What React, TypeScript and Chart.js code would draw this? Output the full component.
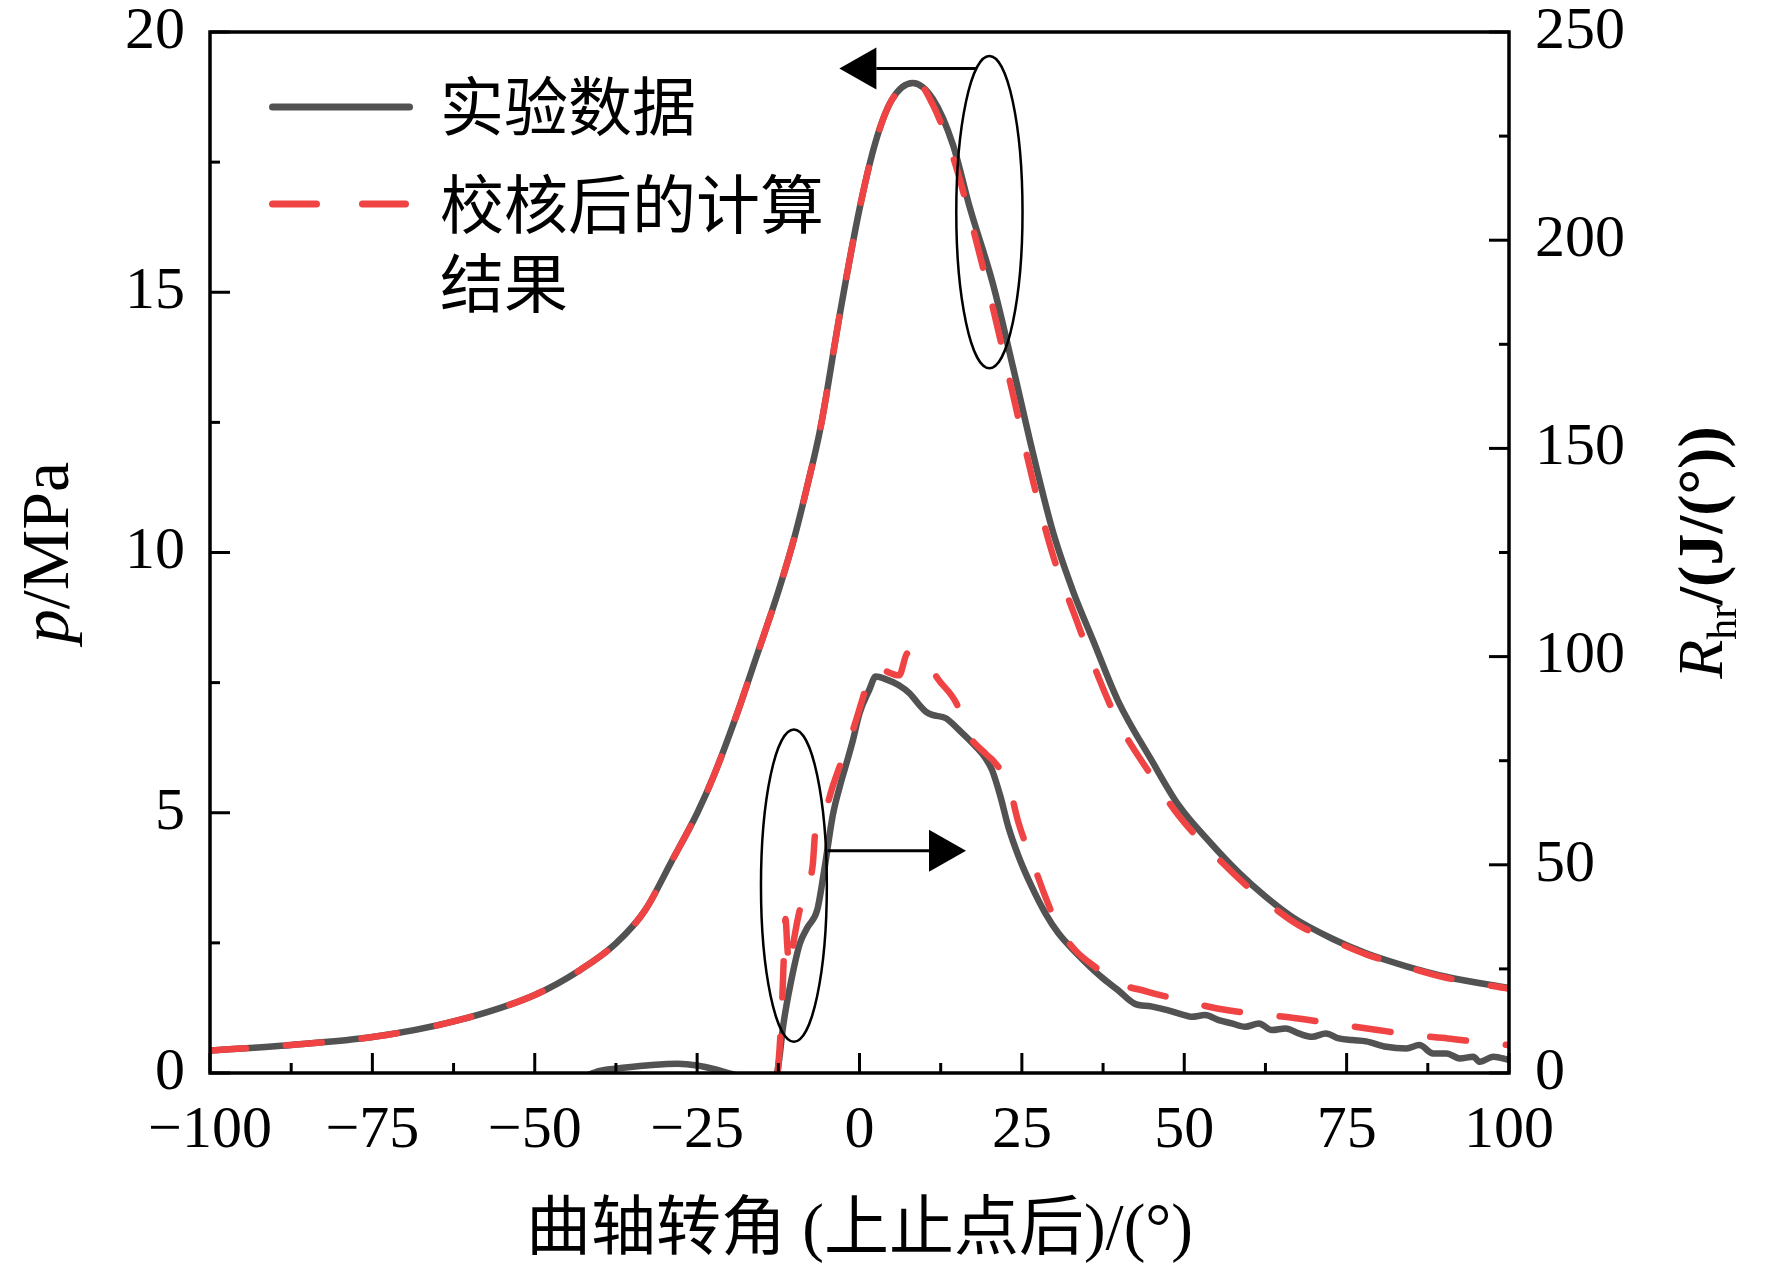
import { useEffect, useRef } from "react"
import { Chart, registerables } from "chart.js"

Chart.register(...registerables)

// 缸内压力 p (MPa) — 实验数据
const pExpAngle = [
  -100, -87.5, -75, -62.5, -50, -43, -37.5, -33, -29, -25,
  -22.5, -19, -16, -12.5, -10, -8, -6, -3, 0, 2.5,
  5, 8.2, 11.3, 14.4, 17, 20.5, 23.6, 26.7, 29.8, 32.9,
  36, 39.8, 45, 49.1, 54.2, 58.4, 62.5, 66.6, 72.8, 78,
  84.2, 90.3, 100,
]
const pExpValue = [
  0.43, 0.54, 0.69, 0.99, 1.5, 1.98, 2.49, 3.13, 4.05, 4.99,
  5.69, 6.85, 7.95, 9.25, 10.3, 11.3, 12.4, 14.6, 16.6, 17.9,
  18.7, 19.02, 18.71, 17.83, 16.62, 15.18, 13.58, 11.91, 10.39, 9.25,
  8.3, 7.15, 6.0, 5.15, 4.4, 3.85, 3.39, 3.0, 2.58, 2.3,
  2.05, 1.85, 1.63,
]

// 缸内压力 p (MPa) — 校核后的计算结果
const pCalcAngle = [
  -100, -87.5, -75, -62.5, -50, -43, -37.5, -33, -29, -25,
  -22.5, -19, -16, -12.5, -10, -8, -6, -3, 0, 2.5,
  5, 8.7, 11.3, 14.4, 17, 20.5, 23.6, 26.7, 29.8, 32.9,
  36, 39.8, 45, 49.1, 54.2, 59.4, 62.5, 67.6, 72.8, 78,
  84.2, 90.3, 100,
]
const pCalcValue = [
  0.43, 0.54, 0.69, 0.99, 1.5, 1.98, 2.49, 3.13, 4.05, 4.99,
  5.69, 6.85, 7.95, 9.25, 10.3, 11.3, 12.4, 14.6, 16.6, 17.9,
  18.7, 19.05, 18.6, 17.6, 16.45, 14.72, 13.05, 11.38, 9.94, 8.87,
  7.85, 6.75, 5.7, 4.95, 4.25, 3.62, 3.3, 2.84, 2.55, 2.28,
  2.04, 1.83, 1.62,
]

// 放热率 Rhr (J/(°)) — 实验数据
const hrExpAngle = [
  -100, -44, -40, -36, -32, -28, -25, -22, -19, -13.5,
  -12.7, -11.7, -10.6, -9.2, -8, -6.5, -5.5, -4.1, -3, -2,
  -1, 0, 1.5, 2.5, 4, 6, 7.7, 9.2, 10.2, 11.2,
  13.3, 15.3, 17.9, 19.4, 20.4, 21.7, 22.9, 24.5, 26.5, 28.6,
  30.6, 33.7, 37.2, 39.8, 42.3, 44.9, 47.4, 50, 51.1, 53.2,
  55.3, 57.3, 59.4, 61.5, 63.5, 65.6, 67.6, 69.7, 71.8, 73.8,
  75.9, 78, 81.1, 84.2, 86.2, 88.3, 90.4, 92.4, 94.5, 95.5,
  97.6, 100,
]
const hrExpValue = [
  -1.5, -1.5, 0.5, 1.3, 1.9, 2.2, 1.8, 0.8, -0.5, -1.5,
  0, 11.9, 21.5, 31, 35, 39.2, 48, 62, 69, 74.4,
  80, 86.4, 92, 95.2, 94.6, 93.2, 91.2, 88.4, 86.8, 86,
  85.2, 82.4, 78.4, 75.6, 72.8, 66.4, 59.2, 52, 44.8, 38.4,
  33.6, 28.3, 23.1, 19.9, 16.7, 16, 15.1, 13.9, 13.5, 13.9,
  12.7, 11.9, 11.1, 11.9, 10.3, 10.7, 9.5, 8.7, 9.5, 8.3,
  7.9, 7.6, 6.3, 5.9, 6.7, 4.7, 4.7, 3.5, 3.9, 2.7,
  3.9, 3.1,
]

// 放热率 Rhr (J/(°)) — 校核后的计算结果
const hrCalcAngle = [
  -12.6, -12.3, -11.9, -11.6, -11.4, -11.1, -10.8, -10.2, -9.5, -8.9,
  -7.2, -6.8, -5.5, -4.1, -2.5, -1, 0.5, 1.8, 3.1, 6.1,
  7.4, 8.6, 10.5, 12, 15, 16.3, 19.6, 20.7, 23, 24.5,
  27, 28.6, 30.6, 33.2, 37.2, 38.3, 44.4, 49.5, 55.1, 60.4,
  66.1, 72.8, 79.5, 85.2, 90.6, 95, 100,
]
const hrCalcValue = [
  0, 6, 17.5, 30, 37, 30, 25, 31, 37, 41,
  50, 58, 62, 69, 76, 82.4, 90, 96.5, 96.8, 95.5,
  100.8, 100.5, 98.8, 94.8, 88.5, 82.5, 76.4, 74.8, 69, 60,
  49.2, 42.4, 35.1, 29.5, 24.3, 22.7, 19.5, 17.5, 15.5, 14.3,
  13.4, 11.9, 10.4, 9.1, 8.3, 7.5, 6.7,
]

const xTicks = [-100, -75, -50, -25, 0, 25, 50, 75, 100]
const pTicks = [0, 5, 10, 15, 20]
const hrTicks = [0, 50, 100, 150, 200, 250]

const legendLabels = [["实验数据"], ["校核后的计算", "结果"]]

// 椭圆标注与箭头（数据坐标）
const callouts = [
  { axis: "y", cx: 20, cy: 16.54, rx: 5.1, ry: 3.0, arrowY: 19.3, from: 18, to: -3.1 },
  { axis: "y2", cx: -10.1, cy: 45, rx: 5.07, ry: 37.5, arrowY: 53.4, from: -4.9, to: 16.4 },
]

const GRAY = "#525252"
const RED = "#f04444"
const SERIF = "'Liberation Serif', 'Times New Roman', serif"
const CJK = "'Noto Sans CJK SC', sans-serif"

function toPoints(xs: number[], ys: number[]) {
  return xs.map((x, i) => ({ x, y: ys[i] }))
}

function fmtTick(v: number) {
  return v < 0 ? "\u2212" + Math.abs(v) : String(v)
}

const decorPlugin = {
  id: "decor",
  afterDatasetsDraw(chart: any) {
    const { ctx, scales } = chart
    const sx = scales.x
    ctx.save()
    ctx.strokeStyle = "#000"
    ctx.fillStyle = "#000"
    for (const c of callouts) {
      const sy = scales[c.axis]
      const cx = sx.getPixelForValue(c.cx)
      const cy = sy.getPixelForValue(c.cy)
      const rx = Math.abs(sx.getPixelForValue(c.cx + c.rx) - cx)
      const ry = Math.abs(sy.getPixelForValue(c.cy + c.ry) - cy)
      ctx.lineWidth = 2.5
      ctx.beginPath()
      ctx.ellipse(cx, cy, rx, ry, 0, 0, Math.PI * 2)
      ctx.stroke()

      const ay = sy.getPixelForValue(c.arrowY)
      const x0 = sx.getPixelForValue(c.from)
      const x1 = sx.getPixelForValue(c.to)
      const dir = Math.sign(x1 - x0)
      const head = 37
      ctx.lineWidth = 3
      ctx.beginPath()
      ctx.moveTo(x0, ay)
      ctx.lineTo(x1 - dir * head, ay)
      ctx.stroke()
      ctx.beginPath()
      ctx.moveTo(x1, ay)
      ctx.lineTo(x1 - dir * head, ay - 21)
      ctx.lineTo(x1 - dir * head, ay + 21)
      ctx.closePath()
      ctx.fill()
    }
    ctx.restore()
  },
  afterDraw(chart: any) {
    const { ctx, chartArea: a, scales } = chart
    const sx = scales.x
    const yl = scales.y
    const yr = scales.y2
    ctx.save()
    ctx.strokeStyle = "#000"
    ctx.fillStyle = "#000"

    // 刻度线（朝内）
    const line = (x0: number, y0: number, x1: number, y1: number) => {
      ctx.beginPath()
      ctx.moveTo(x0, y0)
      ctx.lineTo(x1, y1)
      ctx.stroke()
    }
    ctx.lineWidth = 3
    xTicks.forEach((v, i) => {
      const px = sx.getPixelForValue(v)
      line(px, a.bottom, px, a.bottom - 20)
      if (i < xTicks.length - 1) {
        const m = sx.getPixelForValue((v + xTicks[i + 1]) / 2)
        line(m, a.bottom, m, a.bottom - 10)
      }
    })
    pTicks.forEach((v, i) => {
      const py = yl.getPixelForValue(v)
      line(a.left, py, a.left + 20, py)
      if (i < pTicks.length - 1) {
        const m = yl.getPixelForValue((v + pTicks[i + 1]) / 2)
        line(a.left, m, a.left + 10, m)
      }
    })
    hrTicks.forEach((v, i) => {
      const py = yr.getPixelForValue(v)
      line(a.right, py, a.right - 20, py)
      if (i < hrTicks.length - 1) {
        const m = yr.getPixelForValue((v + hrTicks[i + 1]) / 2)
        line(a.right, m, a.right - 10, m)
      }
    })

    // 边框
    ctx.lineWidth = 3.5
    ctx.strokeRect(a.left, a.top, a.right - a.left, a.bottom - a.top)

    const midY = (a.top + a.bottom) / 2

    // 左轴标题 p/MPa
    ctx.save()
    ctx.translate(68, midY)
    ctx.rotate(-Math.PI / 2)
    ctx.textBaseline = "alphabetic"
    ctx.textAlign = "left"
    const fIt = `italic 68px ${SERIF}`
    const fRg = `68px ${SERIF}`
    ctx.font = fIt
    const wp = ctx.measureText("p").width
    ctx.font = fRg
    const wu = ctx.measureText("/MPa").width
    let sx0 = -(wp + wu) / 2
    ctx.font = fIt
    ctx.fillText("p", sx0, 0)
    ctx.font = fRg
    ctx.fillText("/MPa", sx0 + wp, 0)
    ctx.restore()

    // 右轴标题 Rhr/(J/(°))
    ctx.save()
    ctx.translate(1722, midY)
    ctx.rotate(-Math.PI / 2)
    ctx.textBaseline = "alphabetic"
    ctx.textAlign = "left"
    const fR = `italic 64px ${SERIF}`
    const fSub = `42px ${SERIF}`
    const fUnit = `bold 64px ${SERIF}`
    ctx.font = fR
    const wR = ctx.measureText("R").width
    ctx.font = fSub
    const wSub = ctx.measureText("hr").width
    ctx.font = fUnit
    const wUnit = ctx.measureText("/(J/(°))").width
    sx0 = -(wR + wSub + wUnit) / 2
    ctx.font = fR
    ctx.fillText("R", sx0, 0)
    ctx.font = fSub
    ctx.fillText("hr", sx0 + wR, 14)
    ctx.font = fUnit
    ctx.fillText("/(J/(°))", sx0 + wR + wSub, 0)
    ctx.restore()

    // 横轴标题
    ctx.font = `65px ${SERIF}, ${CJK}`
    ctx.textAlign = "center"
    ctx.textBaseline = "middle"
    ctx.fillText("曲轴转角 (上止点后)/(°)", (a.left + a.right) / 2, 1232)

    // 图例
    ctx.lineCap = "round"
    ctx.lineWidth = 7
    ctx.strokeStyle = GRAY
    line(272.5, 107, 409.5, 107)
    ctx.strokeStyle = RED
    ctx.setLineDash([44, 46])
    line(272.5, 204, 405.5, 204)
    ctx.setLineDash([])
    ctx.font = `64px ${CJK}`
    ctx.textAlign = "left"
    ctx.textBaseline = "middle"
    ctx.fillStyle = "#000"
    ctx.fillText(legendLabels[0][0], 440, 106)
    ctx.fillText(legendLabels[1][0], 440, 204)
    ctx.fillText(legendLabels[1][1], 440, 283)

    ctx.restore()
  },
}

export default function App() {
  const canvasRef = useRef<HTMLCanvasElement>(null)
  const chartRef = useRef<Chart | null>(null)

  useEffect(() => {
    document.body.style.margin = "0"
    document.body.style.overflow = "hidden"
    if (!canvasRef.current) return
    if (chartRef.current) chartRef.current.destroy()

    const tickFont = { family: SERIF, size: 60, lineHeight: 1 }
    const lineBase = {
      pointRadius: 0,
      borderWidth: 6.5,
      cubicInterpolationMode: "monotone" as const,
      borderJoinStyle: "round" as const,
      clip: 0,
      xAxisID: "x",
    }

    chartRef.current = new Chart(canvasRef.current, {
      type: "line",
      data: {
        datasets: [
          { ...lineBase, label: "实验数据", data: toPoints(pExpAngle, pExpValue), yAxisID: "y", borderColor: GRAY, order: 2 },
          { ...lineBase, label: "实验数据", data: toPoints(hrExpAngle, hrExpValue), yAxisID: "y2", borderColor: GRAY, order: 2 },
          {
            ...lineBase, label: "校核后的计算结果", data: toPoints(pCalcAngle, pCalcValue), yAxisID: "y",
            borderColor: RED, borderDash: [36, 40], borderCapStyle: "round", order: 1,
          },
          {
            ...lineBase, label: "校核后的计算结果", data: toPoints(hrCalcAngle, hrCalcValue), yAxisID: "y2",
            borderColor: RED, borderDash: [36, 40], borderCapStyle: "round", order: 1,
          },
        ],
      },
      options: {
        animation: false,
        responsive: false,
        devicePixelRatio: 1,
        events: [],
        layout: { padding: { top: 32, left: 0, right: 0, bottom: 0 } },
        plugins: { legend: { display: false }, tooltip: { enabled: false } },
        scales: {
          x: {
            type: "linear",
            position: "bottom",
            min: -100,
            max: 100,
            grid: { display: false, drawTicks: false },
            border: { display: false },
            afterBuildTicks: (s: any) => { s.ticks = xTicks.map((v) => ({ value: v })) },
            afterFit: (s: any) => {
              s.height = 199
              s.paddingLeft = 0
              s.paddingRight = 0
            },
            ticks: {
              autoSkip: false, maxRotation: 0, padding: 28, color: "#000", font: tickFont,
              callback: (v: any) => fmtTick(Number(v)),
            },
          },
          y: {
            type: "linear",
            position: "left",
            min: 0,
            max: 20,
            grid: { display: false, drawTicks: false },
            border: { display: false },
            afterBuildTicks: (s: any) => { s.ticks = pTicks.map((v) => ({ value: v })) },
            afterFit: (s: any) => {
              s.width = 210
              s.paddingTop = 0
              s.paddingBottom = 0
            },
            ticks: { padding: 25, color: "#000", font: tickFont },
          },
          y2: {
            type: "linear",
            position: "right",
            min: 0,
            max: 250,
            grid: { display: false, drawTicks: false },
            border: { display: false },
            afterBuildTicks: (s: any) => { s.ticks = hrTicks.map((v) => ({ value: v })) },
            afterFit: (s: any) => {
              s.width = 263
              s.paddingTop = 0
              s.paddingBottom = 0
            },
            ticks: { padding: 26, color: "#000", font: tickFont },
          },
        },
      },
      plugins: [decorPlugin],
    })

    return () => {
      if (chartRef.current) {
        chartRef.current.destroy()
        chartRef.current = null
      }
    }
  }, [])

  return <canvas ref={canvasRef} width={1772} height={1272} style={{ display: "block" }} />
}
